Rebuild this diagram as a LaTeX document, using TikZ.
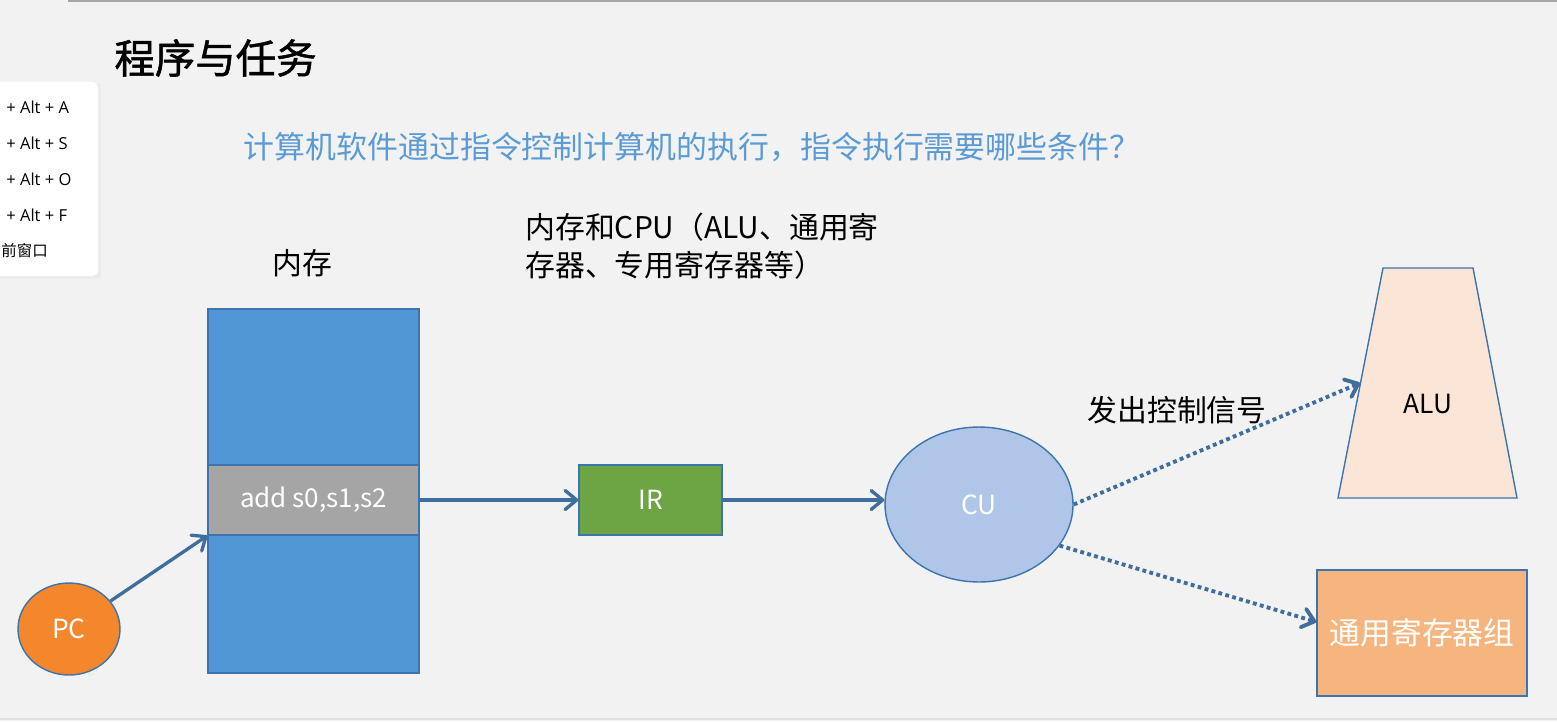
\documentclass[tikz,border=0pt]{standalone}
\usepackage{fontspec}
\setmainfont{Noto Sans CJK SC}
\newfontfamily\titlefont[FakeBold=1.3]{Noto Sans CJK SC}
\newfontfamily\menufont{Open Sans}
\usepackage{tikz}
\usetikzlibrary{shapes.geometric, arrows.meta, positioning}
\definecolor{slidebg}{HTML}{F2F2F2}
\definecolor{edgeblue}{HTML}{3B74AE}
\definecolor{arrowblue}{HTML}{3F6E9E}
\definecolor{memblue}{HTML}{5197D6}
\definecolor{bandgray}{HTML}{A5A5A5}
\definecolor{pcorange}{HTML}{F4872C}
\definecolor{irgreen}{HTML}{6DA544}
\definecolor{culight}{HTML}{AFC6E8}
\definecolor{alupeach}{HTML}{FBE5D6}
\definecolor{regorange}{HTML}{F6B47E}
\definecolor{asktext}{HTML}{5B9BD5}

\begin{document}
\begin{tikzpicture}[x=0.02cm, y=-0.02cm,
  part/.style   = {rectangle, draw=edgeblue, line width=0.8pt, inner sep=0pt,
                   text=white, font=\fontsize{15pt}{18pt}\selectfont},
  unit/.style   = {ellipse, draw=edgeblue, line width=0.8pt, inner sep=0pt,
                   text=white, font=\fontsize{15pt}{18pt}\selectfont},
  caption/.style= {inner sep=0pt, font=\fontsize{17pt}{21.5pt}\selectfont},
  hotkey/.style = {inner sep=0pt, anchor=west, font=\menufont\fontsize{9.4pt}{11pt}\selectfont},
  arr/.style    = {-{Straight Barb[length=2.3mm, width=3.8mm, round]}, line width=1.9pt,
                   draw=arrowblue},
  sig/.style    = {arr, line width=2.2pt, dash pattern=on 2.2pt off 1.9pt},
]
  % Slide
  \fill[slidebg] (0,0) rectangle (1557,721);
  \useasboundingbox (0,0) rectangle (1557,721);
  \draw[gray!70, line width=1.2pt] (68,1) -- (1557,1);
  \draw[black!12, line width=1pt] (0,719) -- (1557,719);

  % Shortcut menu
  \fill[black!8] (-4,84) rectangle (101,279);
  \fill[white, rounded corners=3pt] (-6,82) rectangle (98,276);
  \node[hotkey] (keyA) at (6,107) {+ Alt + A};
  \node[hotkey] (keyS) at (6,143) {+ Alt + S};
  \node[hotkey] (keyO) at (6,179) {+ Alt + O};
  \node[hotkey] (keyF) at (6,215) {+ Alt + F};
  \node[hotkey, font=\fontsize{8.8pt}{10pt}\selectfont] (win) at (1,251) {前窗口};

  % Texts
  \node[caption, font=\titlefont\fontsize{23pt}{28pt}\selectfont] (title) at (215.5,58) {程序与任务};
  \node[caption, text=asktext, font=\fontsize{17.6pt}{21pt}\selectfont] (ask) at (692,147)
    {计算机软件通过指令控制计算机的执行，指令执行需要哪些条件？};
  \node[caption] (memlbl) at (302,263) {内存};
  \node[caption, anchor=west, align=left] (need) at (525,246)
    {内存和CPU（ALU、通用寄\\存器、专用寄存器等）};
  \node[caption] (signal) at (1177,410) {发出控制信号};

  % Memory and instruction
  \node[part, fill=memblue, minimum width=4.22cm, minimum height=7.28cm] (mem) at (313.5,491) {};
  \node[part, fill=bandgray, minimum width=4.22cm, minimum height=1.4cm,
        font=\fontsize{14.8pt}{17pt}\selectfont] (instr) at (313.5,500) {add s0,s1,s2};

  % Units
  \node[unit, fill=pcorange, minimum width=2.04cm, minimum height=1.84cm] (pc) at (69,629) {PC};
  \node[part, fill=irgreen, minimum width=2.86cm, minimum height=1.4cm] (ir) at (650.5,500) {IR};
  \node[unit, fill=culight, minimum width=3.76cm, minimum height=3.1cm] (cu) at (979,504.5) {CU};
  \filldraw[draw=edgeblue, fill=alupeach, line width=0.8pt]
    (1338,498) -- (1383,268) -- (1473,268) -- (1517,498) -- cycle;
  \node[inner sep=0pt, font=\fontsize{15pt}{18pt}\selectfont] (alu) at (1428,404) {ALU};
  \coordinate (aluin) at (1360,383);
  \node[part, fill=regorange, minimum width=4.2cm, minimum height=2.52cm,
        font=\fontsize{17.5pt}{20pt}\selectfont] (regs) at (1422,633) {通用寄存器组};

  % Connections
  \draw[arr] (pc) -- (instr.south west);
  \draw[arr] (instr.east) -- (ir.west);
  \draw[arr] (ir.east) -- (ir.east -| cu.west);
  \draw[sig] (cu.east) -- (aluin);
  \draw[sig] (cu.-27) -- (regs.174);
\end{tikzpicture}
\end{document}
